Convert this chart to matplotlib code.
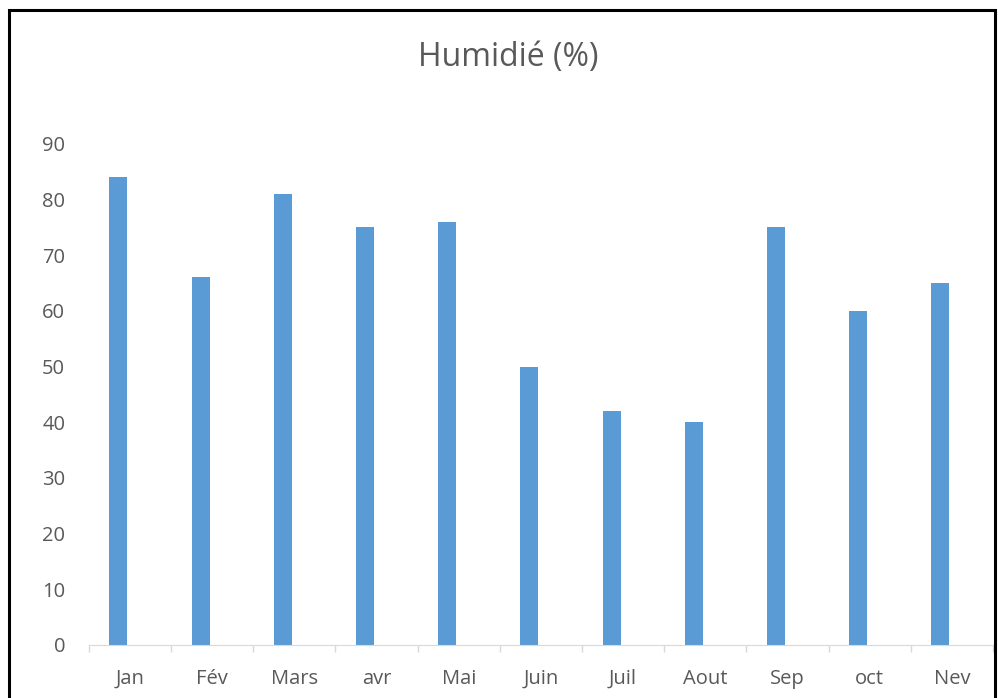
import matplotlib.pyplot as plt
from matplotlib.patches import Rectangle

months = ["Jan", "Fév", "Mars", "avr", "Mai", "Juin", "Juil", "Aout", "Sep", "oct", "Nev"]
humidity = [84, 66, 81, 75, 76, 50, 42, 40, 75, 60, 65]
yticks = [0, 10, 20, 30, 40, 50, 60, 70, 80, 90]

plt.rcParams['font.family'] = ['Open Sans', 'DejaVu Sans']
txt = '#595959'

fig = plt.figure(figsize=(9.98, 6.98), dpi=100)
ax = fig.add_axes([0.089, 0.076, 0.906, 0.718])

x = list(range(len(months)))
# bars sit a bit left of the category centre (as in the original sheet)
ax.bar([i - 0.14 for i in x], humidity, width=0.22, color='#5B9BD5')

ax.set_xlim(-0.5, len(months) - 0.5)
ax.set_ylim(0, 90)
ax.set_yticks(yticks)
ax.tick_params(axis='y', length=0, pad=17, labelsize=14.5, labelcolor=txt)
ax.set_xticks(x)
ax.set_xticklabels(months)
ax.tick_params(axis='x', length=0, pad=17, labelsize=14.5, labelcolor=txt)
# separators between categories
ax.set_xticks([i - 0.5 for i in range(len(months) + 1)], minor=True)
ax.tick_params(axis='x', which='minor', length=5, color='#D9D9D9', width=1)

for s in ['top', 'right', 'left']:
    ax.spines[s].set_visible(False)
ax.spines['bottom'].set_color('#D9D9D9')

fig.text(0.509, 0.918, "Humidié (%)", ha='center', va='center', fontsize=23, color=txt)

# black frame around the chart (bottom cut off)
fig.patches.append(Rectangle((0.009, -0.05), 0.988, 1.036, transform=fig.transFigure,
                             fill=False, edgecolor='black', linewidth=2.2))

fig.savefig('out.png', dpi=100)
